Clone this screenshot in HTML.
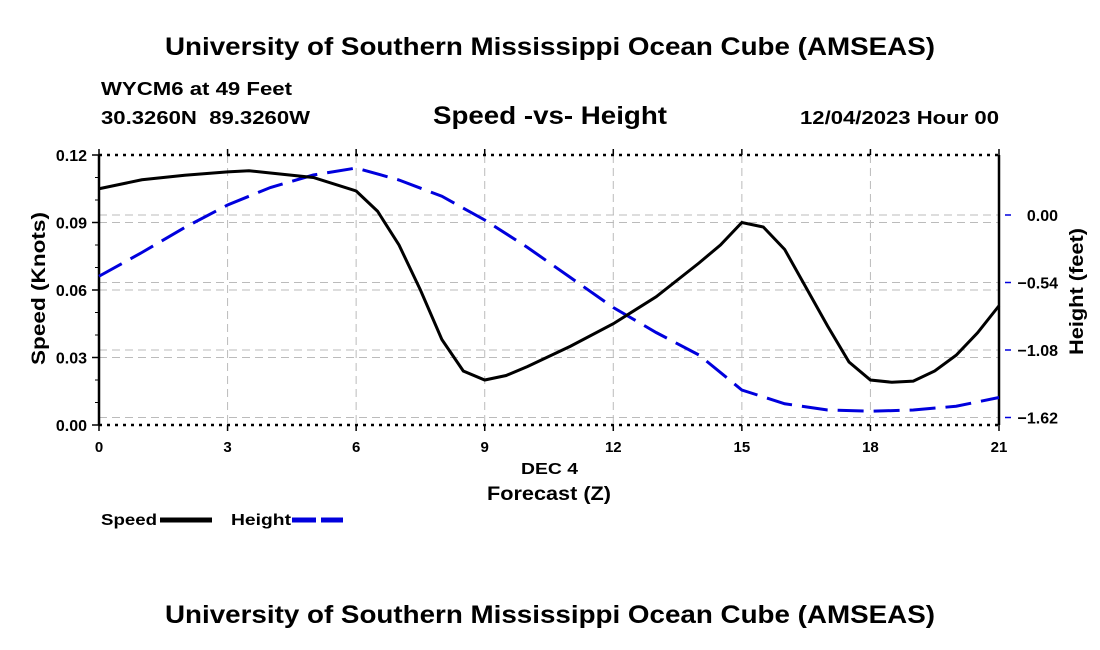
<!DOCTYPE html>
<html><head><meta charset="utf-8"><style>
body{margin:0;background:#fff;}
svg{display:block;font-family:"Liberation Sans",Arial,sans-serif;}
</style></head><body>
<svg id="c" width="1100" height="650">
<text x="165" y="55" font-size="25" font-weight="bold" textLength="770" lengthAdjust="spacingAndGlyphs">University of Southern Mississippi Ocean Cube (AMSEAS)</text>
<text x="101" y="95" font-size="18" font-weight="bold" textLength="191" lengthAdjust="spacingAndGlyphs">WYCM6 at 49 Feet</text>
<text x="101" y="124" font-size="18" font-weight="bold" textLength="209" lengthAdjust="spacingAndGlyphs" xml:space="preserve">30.3260N  89.3260W</text>
<text x="433" y="124" font-size="25" font-weight="bold" textLength="234" lengthAdjust="spacingAndGlyphs">Speed -vs- Height</text>
<text x="800" y="124" font-size="18" font-weight="bold" textLength="199" lengthAdjust="spacingAndGlyphs">12/04/2023 Hour 00</text>
<g id="grid"></g><g id="axes"></g><g id="series"></g>
<text x="521" y="474" font-size="16" font-weight="bold" textLength="57" lengthAdjust="spacingAndGlyphs">DEC 4</text>
<text x="487" y="500" font-size="19" font-weight="bold" textLength="124" lengthAdjust="spacingAndGlyphs">Forecast (Z)</text>
<text transform="translate(45,365) rotate(-90)" font-size="19" font-weight="bold" textLength="153" lengthAdjust="spacingAndGlyphs">Speed (Knots)</text>
<text transform="translate(1083,355) rotate(-90)" font-size="19" font-weight="bold" textLength="127" lengthAdjust="spacingAndGlyphs">Height (feet)</text>
<g><text x="101" y="525" font-size="16" font-weight="bold" textLength="56" lengthAdjust="spacingAndGlyphs">Speed</text><line x1="160" y1="520" x2="212" y2="520" stroke="#000" stroke-width="5"/></g>
<g><text x="231" y="525" font-size="16" font-weight="bold" textLength="60" lengthAdjust="spacingAndGlyphs">Height</text><line x1="292" y1="520" x2="343" y2="520" stroke="#0000dd" stroke-width="5" stroke-dasharray="24,5"/></g>
<text x="165" y="623" font-size="25" font-weight="bold" textLength="770" lengthAdjust="spacingAndGlyphs">University of Southern Mississippi Ocean Cube (AMSEAS)</text>
</svg>
<script>
const speedHours=[0,1,2,3,3.5,4,5,6,6.5,7,7.5,8,8.5,9,9.5,10,11,12,13,14,14.5,15,15.5,16,17,17.5,18,18.5,19,19.5,20,20.5,21];
const speedValues=[0.105,0.109,0.111,0.1125,0.113,0.112,0.110,0.104,0.095,0.080,0.060,0.038,0.024,0.020,0.022,0.026,0.035,0.045,0.057,0.072,0.080,0.090,0.088,0.078,0.044,0.028,0.020,0.019,0.0195,0.024,0.031,0.041,0.053];
const heightHours=[0,1,2,3,4,5,6,7,8,9,10,11,12,13,14,15,16,17,18,19,20,21];
const heightValues=[-0.49,-0.30,-0.10,0.08,0.22,0.32,0.376,0.28,0.15,-0.04,-0.26,-0.50,-0.74,-0.94,-1.12,-1.40,-1.51,-1.56,-1.57,-1.56,-1.53,-1.46];
const xTicks=[0,3,6,9,12,15,18,21];
const yTicks=[0,0.03,0.06,0.09,0.12];
const y2Ticks=[0,-0.54,-1.08,-1.62];
const X0=99,X1=999,YT=155,YB=425;
const x=t=>X0+t/21*(X1-X0);
const y=v=>YB-v/0.12*(YB-YT);
const y2=h=>215-h/0.54*67.5;
const NS='http://www.w3.org/2000/svg';
function mk(tag,parent,attrs){const e=document.createElementNS(NS,tag);for(const k in attrs)e.setAttribute(k,attrs[k]);parent.appendChild(e);return e;}
const grid=document.getElementById('grid'),axes=document.getElementById('axes'),series=document.getElementById('series');
xTicks.forEach(t=>{if(t>0&&t<21){const l=mk('line',grid,{x1:x(t),x2:x(t),y1:YT,y2:YB,stroke:'#bbb','stroke-dasharray':'8,5'});

}
const tx=mk('text',axes,{x:x(t),y:YB+27,'text-anchor':'middle','font-size':15,'font-weight':'bold'});tx.textContent=t;


mk('line',axes,{x1:x(t),x2:x(t),y1:YB,y2:YB+6,stroke:'#000','stroke-width':1.5});
mk('line',axes,{x1:x(t),x2:x(t),y1:YT-6,y2:YT,stroke:'#000','stroke-width':1.5});});
yTicks.forEach(v=>{if(v>0&&v<0.12){const l=mk('line',grid,{x1:X0,x2:X1,y1:y(v),y2:y(v),stroke:'#bbb','stroke-dasharray':'8,5'});

}
mk('line',axes,{x1:X0-7,x2:X0,y1:y(v),y2:y(v),stroke:'#000','stroke-width':1.5});
const tx=mk('text',axes,{x:X0-12,y:y(v)+6,'text-anchor':'end','font-size':16,'font-weight':'bold'});tx.textContent=v.toFixed(2);

});
for(let v=0.01;v<0.12;v+=0.01){mk('line',axes,{x1:X0-4,x2:X0,y1:y(v),y2:y(v),stroke:'#000'});}
y2Ticks.forEach(h=>{const l=mk('line',grid,{x1:X0,x2:X1,y1:y2(h),y2:y2(h),stroke:'#bbb','stroke-dasharray':'8,5'});


mk('line',axes,{x1:X1+6,x2:X1+12,y1:y2(h),y2:y2(h),stroke:'#0000dd','stroke-width':1.5});
const tx=mk('text',axes,{x:1058,y:y2(h)+6,'text-anchor':'end','font-size':16,'font-weight':'bold'});tx.textContent=(h===0?'0.00':'\u2212'+Math.abs(h).toFixed(2));

});
mk('line',axes,{x1:X0,x2:X0,y1:YT,y2:YB,stroke:'#000','stroke-width':2.5});
mk('line',axes,{x1:X1,x2:X1,y1:YT,y2:YB,stroke:'#000','stroke-width':2.5});
mk('line',axes,{x1:X0,x2:X1,y1:YT,y2:YT,stroke:'#000','stroke-width':2.5,'stroke-dasharray':'3,5'});
mk('line',axes,{x1:X0,x2:X1,y1:YB,y2:YB,stroke:'#000','stroke-width':2.5,'stroke-dasharray':'3,5'});
const hp=mk('polyline',series,{points:heightHours.map((t,i)=>x(t)+','+y2(heightValues[i])).join(' '),fill:'none',stroke:'#0000dd','stroke-width':3,'stroke-dasharray':'26,10'});


const sp=mk('polyline',series,{points:speedHours.map((t,i)=>x(t)+','+y(speedValues[i])).join(' '),fill:'none',stroke:'#000','stroke-width':3});


</script>
</body></html>
